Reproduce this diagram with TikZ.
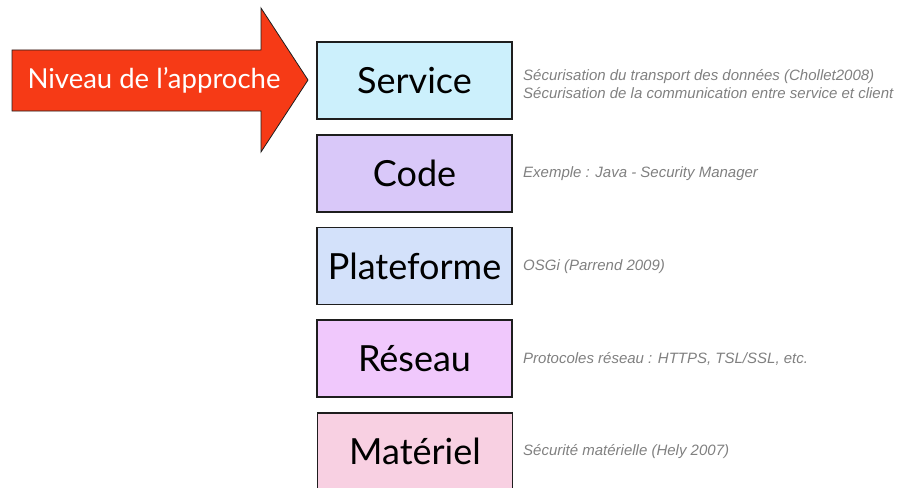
\documentclass[tikz,border=0pt]{standalone}
\usepackage{fontspec}
\setmainfont{Lato}
\newfontfamily\notefont{Liberation Sans}
\usetikzlibrary{positioning}

\definecolor{flecherouge}{HTML}{F63A16}
\definecolor{bordnoir}{HTML}{1E1E1E}
\definecolor{service}{HTML}{CCF0FC}
\definecolor{code}{HTML}{D9C8F9}
\definecolor{plateforme}{HTML}{D3E1FA}
\definecolor{reseau}{HTML}{F0C8FC}
\definecolor{materiel}{HTML}{F8D0E2}
\definecolor{notegris}{HTML}{808080}

\begin{document}
\begin{tikzpicture}[x=1pt, y=-1pt,
  couche/.style={draw=bordnoir, line width=1.3pt, minimum width=195pt, minimum height=77pt, inner sep=0pt, font=\fontsize{36}{40}\selectfont},
  note/.style={anchor=west, align=left, text=notegris, inner sep=0pt, font=\notefont\itshape\fontsize{15}{18}\selectfont}]
\useasboundingbox (0,0) rectangle (901,487);

% la fleche
\draw [fill=flecherouge, draw=bordnoir, line width=0.8pt] (12,50) -- (261,50) -- (261,8) -- (308,80) -- (261,152) -- (261,111) -- (12,111) -- cycle;
\node [text=white, font=\fontsize{27.5}{30}\selectfont] (niveau) at (154,80) {Niveau de l’approche};

% les couches
\node [couche, fill=service] (service) at (414.5,80.5) {Service};
\node [couche, fill=code] (code) at (414.5,173.5) {Code};
\node [couche, fill=plateforme] (plateforme) at (414.5,266) {Plateforme};
\node [couche, fill=reseau] (reseau) at (414.5,358.5) {Réseau};
\node [couche, fill=materiel] (materiel) at (415,451.5) {Matériel};

% les notes
\node [note] (noteservice) at (523,84) {Sécurisation du transport des données (Chollet2008)\\Sécurisation de la communication entre service et client};
\node [note] (notecode) at (523,174) {Exemple : Java - Security Manager};
\node [note] (noteplateforme) at (523,267) {OSGi (Parrend 2009)};
\node [note] (notereseau) at (523,359) {Protocoles réseau : HTTPS, TSL/SSL, etc.};
\node [note] (notemateriel) at (523,452) {Sécurité matérielle (Hely 2007)};

\end{tikzpicture}
\end{document}
